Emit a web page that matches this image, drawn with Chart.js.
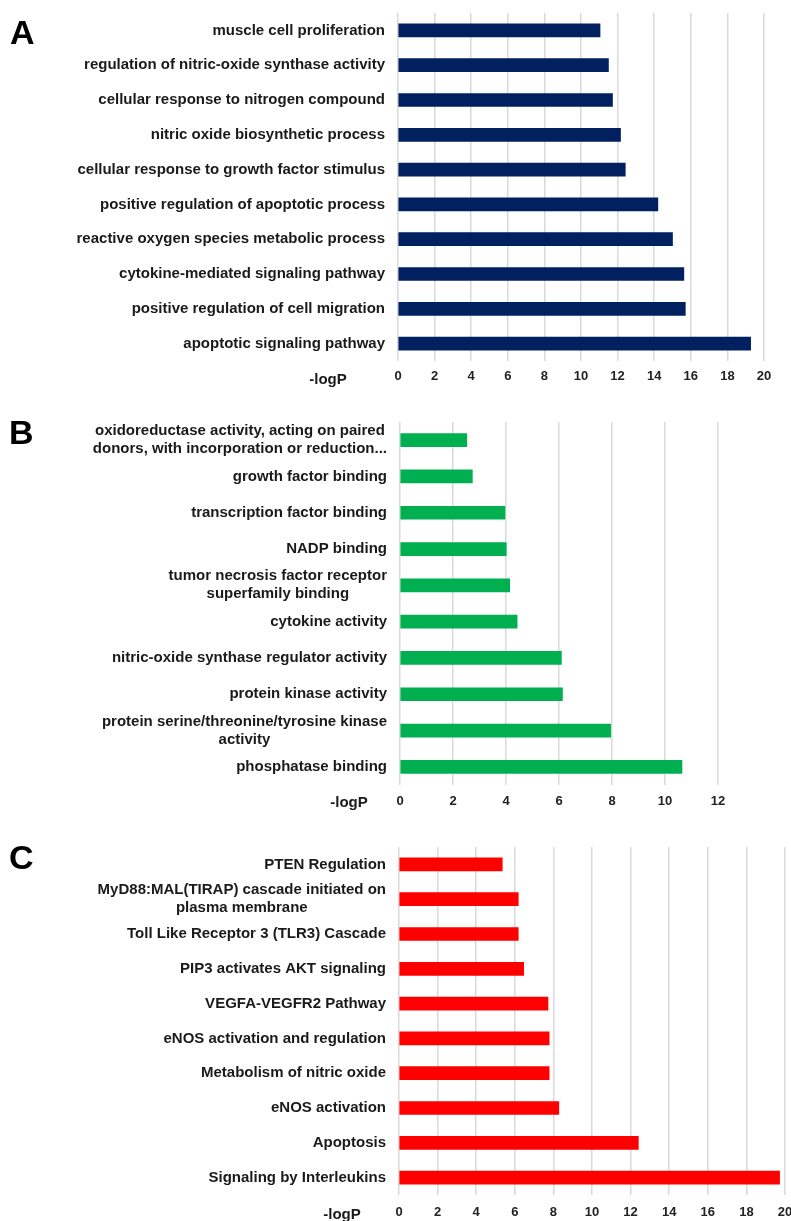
<!DOCTYPE html>
<html>
<head>
<meta charset="utf-8">
<script src="https://cdn.jsdelivr.net/npm/chart.js@4.4.1/dist/chart.umd.min.js"></script>
<style>
  html, body { margin: 0; padding: 0; background: #fff; overflow: hidden; }
  #page { position: relative; width: 791px; height: 1221px; overflow: hidden; font-family: "Liberation Sans", Arial, sans-serif; }
  .panel { position: absolute; left: 0; }
  .letter { position: absolute; font-weight: bold; font-size: 34px; line-height: 34px; color: #000; }
  .xlabel { position: absolute; font-weight: bold; font-size: 15px; color: #1a1a1a; transform: translate(-50%, -50%); white-space: nowrap; }
</style>
</head>
<body>
<div id="page">
  <canvas id="chart-a" class="panel" style="top:0px" width="791" height="392"></canvas>
  <canvas id="chart-b" class="panel" style="top:400px" width="791" height="415"></canvas>
  <canvas id="chart-c" class="panel" style="top:820px" width="800" height="401"></canvas>
  <div class="letter" style="left:10px; top:15px">A</div>
  <div class="letter" style="left:9px; top:415px">B</div>
  <div class="letter" style="left:9px; top:840px">C</div>
  <div class="xlabel" style="left:328px; top:378px">-logP</div>
  <div class="xlabel" style="left:349px; top:801px">-logP</div>
  <div class="xlabel" style="left:342px; top:1213px">-logP</div>
</div>
<script>
// GO biological process
const bpTerms = [
    'muscle cell proliferation',
    'regulation of nitric-oxide synthase activity',
    'cellular response to nitrogen compound',
    'nitric oxide biosynthetic process',
    'cellular response to growth factor stimulus',
    'positive regulation of apoptotic process',
    'reactive oxygen species metabolic process',
    'cytokine-mediated signaling pathway',
    'positive regulation of cell migration',
    'apoptotic signaling pathway',
];
const bpValues = [11.04, 11.5, 11.72, 12.16, 12.42, 14.2, 15.0, 15.62, 15.7, 19.27];

// GO molecular function
const mfTerms = [
    ['oxidoreductase activity, acting on paired', 'donors, with incorporation or reduction...'],
    'growth factor binding',
    'transcription factor binding',
    'NADP binding',
    ['tumor necrosis factor receptor', 'superfamily binding'],
    'cytokine activity',
    'nitric-oxide synthase regulator activity',
    'protein kinase activity',
    ['protein serine/threonine/tyrosine kinase', 'activity'],
    'phosphatase binding',
];
const mfValues = [2.52, 2.73, 3.96, 4.01, 4.14, 4.42, 6.09, 6.13, 7.95, 10.64];

// Reactome pathways
const rpTerms = [
    'PTEN Regulation',
    ['MyD88:MAL(TIRAP) cascade initiated on', 'plasma membrane'],
    'Toll Like Receptor 3 (TLR3) Cascade',
    'PIP3 activates AKT signaling',
    'VEGFA-VEGFR2 Pathway',
    'eNOS activation and regulation',
    'Metabolism of nitric oxide',
    'eNOS activation',
    'Apoptosis',
    'Signaling by Interleukins',
];
const rpValues = [5.35, 6.18, 6.18, 6.46, 7.72, 7.78, 7.78, 8.28, 12.4, 19.72];

const FONT = '"Liberation Sans", Arial, sans-serif';
const LABEL_SIZE = 15;
const LABEL_LINE = 18;
const LABEL_GAP = 13;

// Category labels: block right-aligned against the axis, lines centred inside the block
// (the way Excel wraps long category names).
const centeredLabels = {
    id: 'centeredLabels',
    afterDraw(chart) {
        const yScale = chart.scales.y;
        const ctx = chart.ctx;
        ctx.save();
        ctx.font = `bold ${LABEL_SIZE}px ${FONT}`;
        ctx.fillStyle = '#1a1a1a';
        ctx.textAlign = 'center';
        ctx.textBaseline = 'middle';
        const right = chart.chartArea.left - LABEL_GAP;
        chart.data.labels.forEach((label, i) => {
            const lines = Array.isArray(label) ? label : [label];
            const w = Math.max(...lines.map(l => ctx.measureText(l).width));
            const cx = right - w / 2;
            const cy = yScale.getPixelForValue(i);
            lines.forEach((line, k) => {
                ctx.fillText(line, cx, cy + (k - (lines.length - 1) / 2) * LABEL_LINE);
            });
        });
        ctx.restore();
    },
};

function makeBarChart(id, labels, values, color, opts) {
    const canvas = document.getElementById(id);
    return new Chart(canvas, {
        type: 'bar',
        data: {
            labels: labels,
            datasets: [{
                data: values,
                backgroundColor: color,
                borderWidth: 0,
                barThickness: 13,
            }],
        },
        plugins: [centeredLabels],
        options: {
            indexAxis: 'y',
            responsive: false,
            animation: false,
            layout: {
                padding: { top: opts.top, right: opts.right, left: 0, bottom: 0 },
            },
            plugins: {
                legend: { display: false },
                tooltip: { enabled: false },
            },
            scales: {
                x: {
                    min: 0,
                    max: opts.max,
                    ticks: {
                        stepSize: 2,
                        color: '#222',
                        padding: opts.tickPad,
                        font: { family: FONT, size: 13, weight: 'bold' },
                    },
                    grid: {
                        color: '#d9d9d9',
                        lineWidth: 1.5,
                        drawTicks: false,
                    },
                    border: { display: false },
                    afterFit: (scale) => {
                        scale.height = opts.xHeight;
                        scale.paddingLeft = 0;
                        scale.paddingRight = 0;
                    },
                },
                y: {
                    ticks: { display: false },
                    grid: { display: false },
                    border: { display: false },
                    afterFit: (scale) => {
                        scale.width = opts.left;
                        scale.paddingTop = 0;
                        scale.paddingBottom = 0;
                    },
                },
            },
        },
    });
}

makeBarChart('chart-a', bpTerms, bpValues, '#002060',
    { top: 13, right: 27, max: 20, left: 398, xHeight: 31, tickPad: 8 });
makeBarChart('chart-b', mfTerms, mfValues, '#00b050',
    { top: 22, right: 73, max: 12, left: 400, xHeight: 30, tickPad: 9 });
makeBarChart('chart-c', rpTerms, rpValues, '#ff0000',
    { top: 27, right: 15, max: 20, left: 399, xHeight: 26, tickPad: 10 });
</script>
</body>
</html>
